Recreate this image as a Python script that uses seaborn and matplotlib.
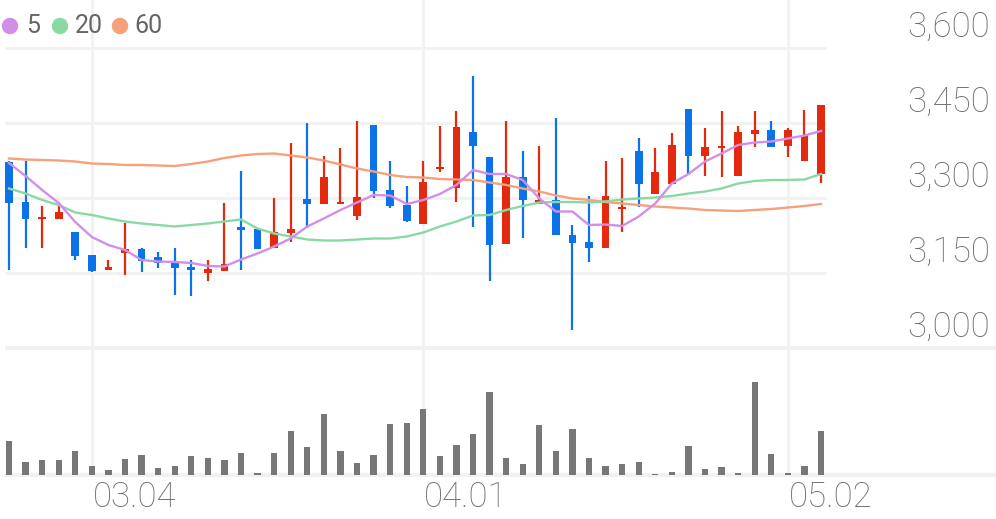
import numpy as np
import pandas as pd
import matplotlib
matplotlib.use("Agg")
import matplotlib.pyplot as plt
import seaborn as sns

# daily candles (o, h, l, c), 50 trading days
opens = [3371, 3291, 3258, 3258, 3231, 3186, 3155, 3189, 3197, 3181,
         3171, 3161, 3149, 3154, 3241, 3237, 3199, 3229, 3297, 3288,
         3288, 3264, 3445, 3315, 3286, 3248, 3357, 3319, 3431, 3381,
         3208, 3341, 3288, 3296, 3226, 3211, 3199, 3277, 3394, 3308,
         3328, 3478, 3383, 3400, 3343, 3428, 3435, 3403, 3373, 3348]
highs = [3373, 3373, 3284, 3286, 3231, 3186, 3175, 3249, 3199, 3191,
         3199, 3175, 3175, 3289, 3353, 3237, 3299, 3409, 3449, 3383,
         3399, 3453, 3445, 3373, 3323, 3373, 3443, 3473, 3543, 3381,
         3453, 3393, 3403, 3459, 3245, 3303, 3373, 3379, 3419, 3399,
         3429, 3478, 3439, 3473, 3443, 3474, 3453, 3439, 3476, 3485]
lows = [3156, 3199, 3199, 3258, 3176, 3151, 3155, 3146, 3151, 3159,
        3106, 3103, 3133, 3154, 3156, 3198, 3199, 3211, 3239, 3288,
        3288, 3256, 3299, 3279, 3251, 3248, 3351, 3291, 3241, 3133,
        3208, 3219, 3288, 3225, 3036, 3171, 3199, 3231, 3281, 3308,
        3328, 3345, 3344, 3341, 3343, 3401, 3401, 3381, 3373, 3329]
closes = [3289, 3258, 3260, 3271, 3184, 3154, 3161, 3197, 3174, 3169,
          3159, 3155, 3157, 3167, 3235, 3198, 3231, 3237, 3288, 3341,
          3291, 3301, 3313, 3283, 3253, 3331, 3360, 3441, 3403, 3205,
          3341, 3295, 3296, 3225, 3209, 3199, 3304, 3280, 3328, 3351,
          3405, 3383, 3401, 3402, 3431, 3435, 3401, 3435, 3425, 3485]
volumes = [34, 13.5, 15.5, 15.5, 24, 9, 5, 15.7, 19.7, 7,
           8.7, 19.3, 17, 14.7, 21.7, 2.3, 21.7, 44, 28, 61,
           24, 12, 20, 50.7, 52.3, 65.7, 19, 30, 41, 83.3,
           17.3, 11.3, 49.7, 24, 46, 16.7, 9.3, 10.7, 13.3, 0.7,
           3.3, 29, 6, 7.7, 2.3, 93, 20.7, 2, 9.3, 44]

# moving averages as drawn
ma5 = [3370, 3344, 3316, 3290, 3252, 3222, 3206, 3196, 3176, 3173,
       3172, 3170, 3164, 3163, 3177, 3189, 3203, 3219, 3243, 3259,
       3276, 3291, 3306, 3305, 3288, 3296, 3308, 3326, 3356, 3348,
       3348, 3336, 3299, 3273, 3273, 3246, 3247, 3244, 3263, 3289,
       3329, 3348, 3373, 3389, 3406, 3411, 3413, 3419, 3425, 3434]
ma20 = [3319, 3309, 3296, 3286, 3271, 3266, 3259, 3253, 3249, 3246,
        3243, 3246, 3249, 3253, 3257, 3239, 3229, 3223, 3217, 3215,
        3215, 3217, 3219, 3219, 3223, 3231, 3243, 3253, 3265, 3266,
        3276, 3284, 3291, 3292, 3292, 3291, 3293, 3297, 3299, 3301,
        3304, 3309, 3313, 3319, 3329, 3334, 3336, 3336, 3337, 3348]
ma60 = [3379, 3377, 3376, 3375, 3373, 3369, 3368, 3366, 3366, 3365,
        3364, 3368, 3373, 3380, 3385, 3388, 3389, 3385, 3381, 3375,
        3367, 3359, 3353, 3346, 3342, 3341, 3338, 3337, 3336, 3331,
        3326, 3319, 3313, 3305, 3299, 3296, 3292, 3289, 3286, 3283,
        3281, 3279, 3276, 3275, 3274, 3276, 3278, 3281, 3284, 3288]

price_ticks = [3000, 3150, 3300, 3450, 3600]
date_ticks = [5, 25, 47]
date_labels = ["03.04", "04.01", "05.02"]
ma_names = ["5", "20", "60"]

UP = "#e32a0e"
DOWN = "#0b72e7"
MA_COLORS = {"5": "#d18fe8", "20": "#8ad9a3", "60": "#f6a07c"}
GRID = "#f1f1f1"
TXT = "#6e6e6e"

W, H = 996, 519
fig = plt.figure(figsize=(W / 100, H / 100), dpi=100)
plt.rcParams["font.family"] = ["Roboto", "DejaVu Sans"]

x0 = 9.0
step = (821 - 9) / 49.0
xlim = (-x0 / step, (W - x0) / step)
grid_right = (826 - x0) / step
grid_left = (5 - x0) / step

# price panel: from top of figure down to the 3,000 line (y=348px)
ax = fig.add_axes([0, 1 - 348 / H, 1, 348 / H])
# volume panel: from 348px to baseline at 475px
axv = fig.add_axes([0, 1 - 475 / H, 1, 127 / H])

for p in price_ticks[1:]:
    ax.hlines(p, grid_left, grid_right, color=GRID, lw=2, zorder=0)
ax.hlines(price_ticks[0], grid_left, xlim[1], color=GRID, lw=3, zorder=0, clip_on=False)
axv.hlines(0, grid_left, xlim[1], color=GRID, lw=3, zorder=0, clip_on=False)
for d in date_ticks:
    ax.axvline(d, color=GRID, lw=2, zorder=0)
    axv.axvline(d, color=GRID, lw=2, zorder=0)

idx = np.arange(len(closes))
o = np.array(opens, float)
c = np.array(closes, float)
colors = [UP if cc >= oo else DOWN for oo, cc in zip(o, c)]
ax.vlines(idx, lows, highs, colors=colors, lw=1.6, zorder=2)
body_bottom = np.minimum(o, c)
body_h = np.maximum(np.abs(c - o), 4)
ax.bar(idx, body_h, bottom=body_bottom, width=0.46, color=colors, zorder=3)

ma_df = pd.DataFrame({
    "i": np.concatenate([idx, idx, idx]),
    "price": ma5 + ma20 + ma60,
    "ma": ["5"] * 50 + ["20"] * 50 + ["60"] * 50,
})
sns.lineplot(data=ma_df, x="i", y="price", hue="ma", palette=MA_COLORS,
             hue_order=["60", "20", "5"], linewidth=1.7, legend=False,
             ax=ax, zorder=4)
ax.set_xlim(*xlim)
ax.set_ylim(3000, 3000 + 348 * 2)
ax.axis("off")

vol_df = pd.DataFrame({"i": idx, "vol": volumes})
sns.barplot(data=vol_df, x="i", y="vol", native_scale=True, color="#777777",
            width=0.38, saturation=1, ax=axv, zorder=2)
axv.set_xlim(*xlim)
axv.set_ylim(0, 127)
axv.axis("off")

# right-side price labels, sitting above their gridlines
for p in price_ticks:
    ypx = 48 + (3600 - p) / 2 - 21
    fig.text(990 / W, 1 - ypx / H, f"{p:,}", ha="right", va="center",
             fontsize=25, color=TXT, fontweight="light")

for d, lab in zip(date_ticks, date_labels):
    xpx = x0 + d * step
    fig.text((xpx + 1) / W, 1 - 497 / H, lab, ha="left", va="center",
             fontsize=25, color=TXT, fontweight="light")

# legend
for name, cx, tx in zip(ma_names, [10, 60, 120], [26, 75, 134]):
    fig.patches.append(plt.Circle((cx, H - 26), 7.5, color=MA_COLORS[name],
                                  transform=None, figure=fig))
    fig.text(tx / W, 1 - 26 / H, name, ha="left", va="center",
             fontsize=18, color="#666666")

fig.savefig("out.png", dpi=100)
